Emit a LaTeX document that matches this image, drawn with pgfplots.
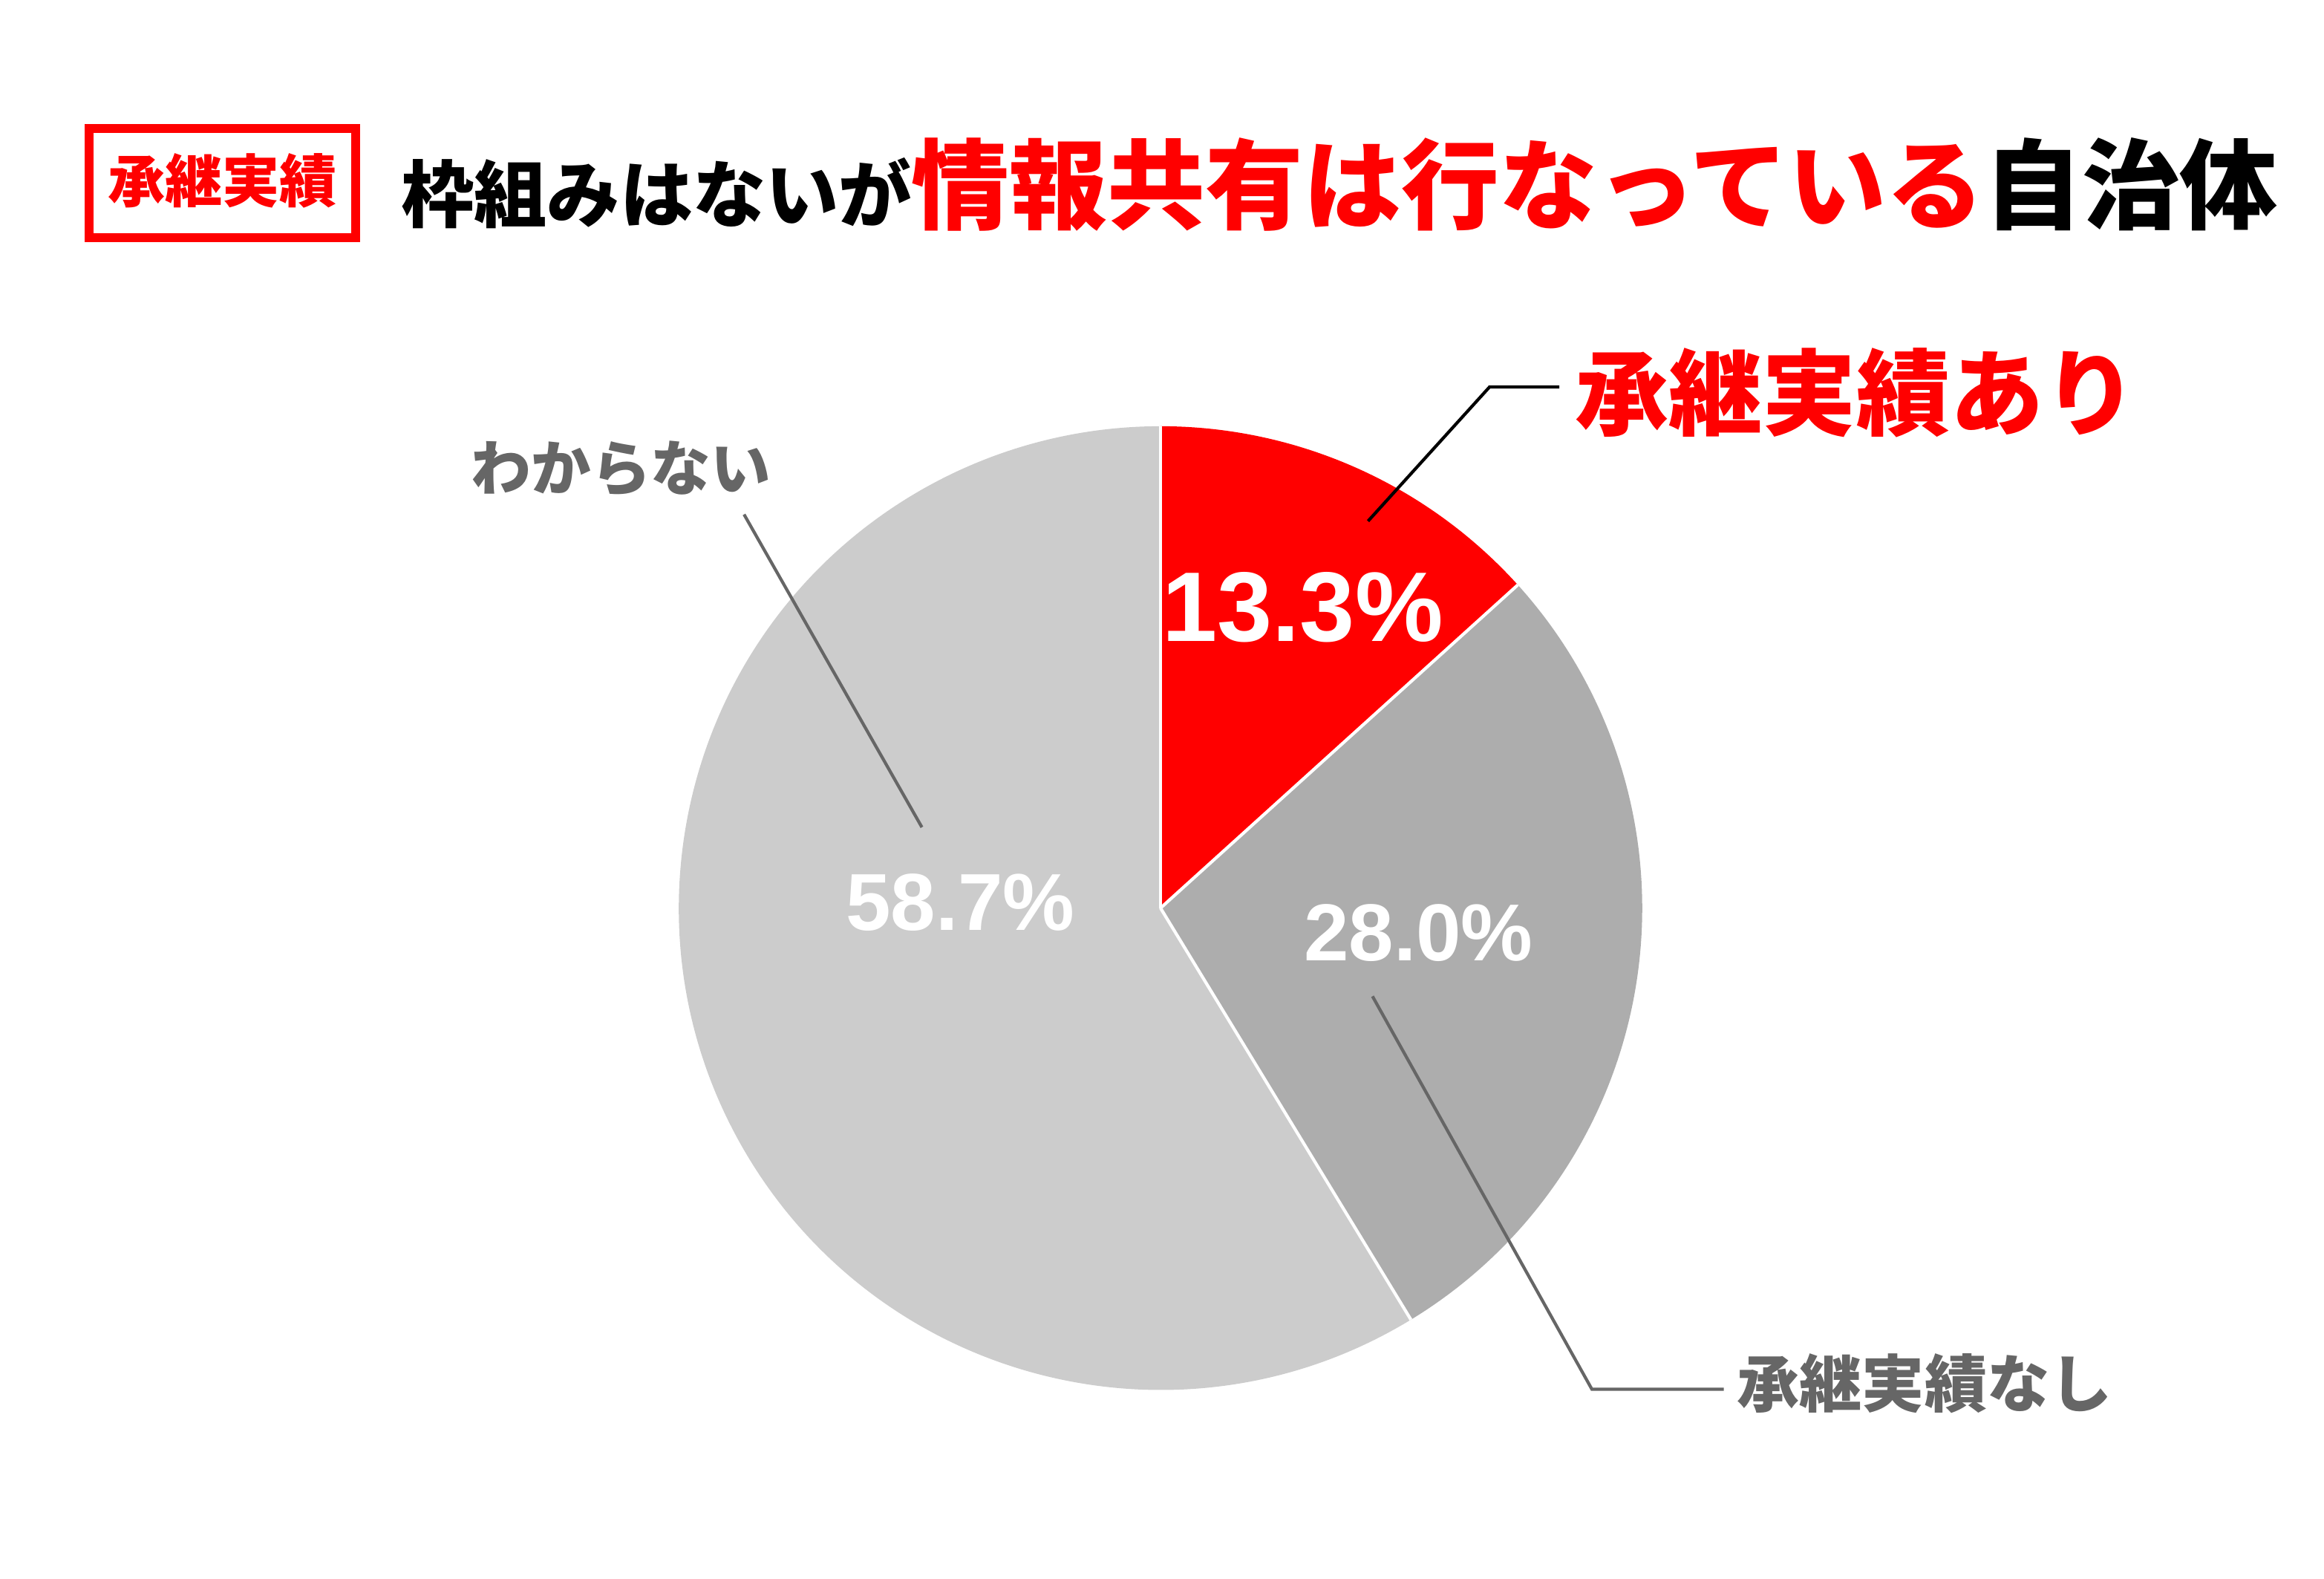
\documentclass[border=0pt]{standalone}
\usepackage{pgfplots}
\usepackage{pgfplotstable}
\pgfplotsset{compat=1.18}
\usepackage{fontspec}
\setmainfont{Liberation Sans}
\newfontfamily\jp{Noto Sans CJK JP}
\definecolor{pred}{HTML}{FF0000}
\definecolor{pgray}{HTML}{ADADAD}
\definecolor{plight}{HTML}{CCCCCC}
\definecolor{tgray}{HTML}{666666}
\pgfplotstableread{
label value
yes 13.3
no 28.0
unk 58.7
}\piedata
\begin{document}
\begin{tikzpicture}
\useasboundingbox (0,0) rectangle (15.68cm,10.65cm);
\pgfplotstablegetelem{0}{value}\of\piedata \let\va\pgfplotsretval
\pgfplotstablegetelem{1}{value}\of\piedata \let\vb\pgfplotsretval
\pgfplotstablegetelem{2}{value}\of\piedata \let\vc\pgfplotsretval
\pgfmathsetmacro\aA{90}
\pgfmathsetmacro\aB{90-3.6*\va}
\pgfmathsetmacro\aC{\aB-3.6*\vb}
\pgfmathsetmacro\aD{\aC-3.6*\vc}
\begin{axis}[at={(0,0)}, anchor=south west, x=1cm, y=1cm,
  xmin=0, xmax=15.68, ymin=0, ymax=10.65, hide axis, clip=false]
% pie sectors
\fill[pred] (axis cs:7.83,4.525) -- ++(\aA:3.25cm) arc[start angle=\aA, end angle=\aB, radius=3.25cm] -- cycle;
\fill[pgray] (axis cs:7.83,4.525) -- ++(\aB:3.25cm) arc[start angle=\aB, end angle=\aC, radius=3.25cm] -- cycle;
\fill[plight] (axis cs:7.83,4.525) -- ++(\aC:3.25cm) arc[start angle=\aC, end angle=\aD, radius=3.25cm] -- cycle;
\draw[white, line width=0.6pt] (axis cs:7.83,4.525) -- ++(\aA:3.25cm);
\draw[white, line width=0.6pt] (axis cs:7.83,4.525) -- ++(\aB:3.25cm);
\draw[white, line width=0.6pt] (axis cs:7.83,4.525) -- ++(\aC:3.25cm);
% percentages
\node[white, font=\fontsize{19}{22}\selectfont\bfseries, inner sep=0] at (axis cs:8.79,6.555) {13.3\%};
\node[white, font=\fontsize{15.5}{18}\selectfont\bfseries, inner sep=0] at (axis cs:9.57,4.36) {28.0\%};
\node[white, font=\fontsize{15.5}{18}\selectfont\bfseries, inner sep=0] at (axis cs:6.48,4.565) {58.7\%};
% leader lines
\draw[black, line width=0.6pt] (axis cs:10.52,8.04) -- (axis cs:10.05,8.04) -- (axis cs:9.23,7.135);
\draw[tgray, line width=0.6pt] (axis cs:5.02,7.18) -- (axis cs:6.22,5.07);
\draw[tgray, line width=0.6pt] (axis cs:9.26,3.93) -- (axis cs:10.74,1.28) -- (axis cs:11.63,1.28);
% category labels
\node[pred, anchor=west, inner sep=0, font=\jp\bfseries\fontsize{18}{20}\selectfont] at (axis cs:10.62,8.0) {承継実績あり};
\node[tgray, anchor=center, inner sep=0, font=\jp\bfseries\fontsize{11.5}{13}\selectfont] at (axis cs:4.19,7.49) {わからない};
\node[tgray, anchor=center, inner sep=0, font=\jp\bfseries\fontsize{12}{14}\selectfont] at (axis cs:12.985,1.32) {承継実績なし};
% title
\draw[pred, line width=0.06cm] (axis cs:0.60,9.045) rectangle (axis cs:2.40,9.785);
\node[pred, anchor=center, inner sep=0, font=\jp\bfseries\fontsize{11}{13}\selectfont] at (axis cs:1.5,9.43) {承継実績};
\node[black, anchor=base west, inner sep=0, font=\jp\bfseries] at (axis cs:2.70,9.155)
  {{\fontsize{14}{16}\selectfont 枠組みはないが}{\color{pred}\fontsize{18.8}{21}\selectfont 情報共有は行なっている}{\fontsize{18.8}{21}\selectfont 自治体}};
\end{axis}
\end{tikzpicture}
\end{document}
